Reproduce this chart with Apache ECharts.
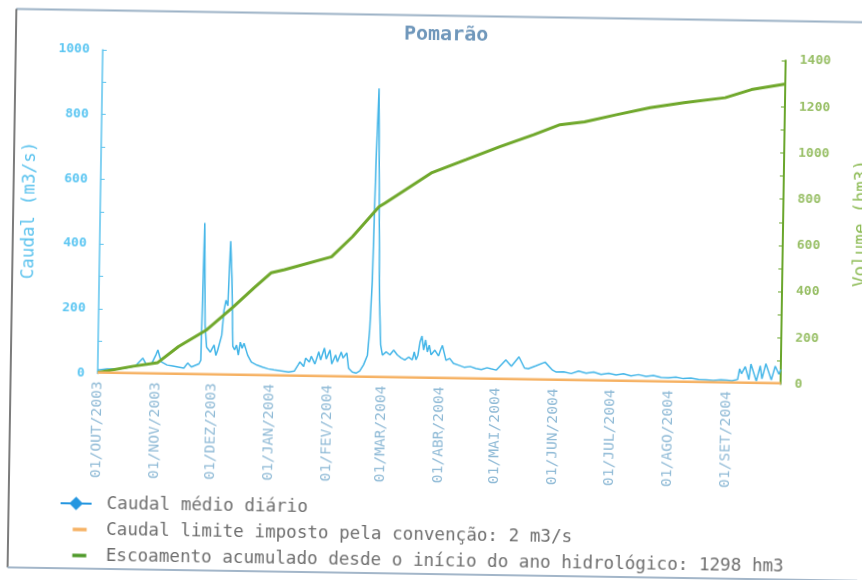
<!DOCTYPE html>
<html>
<head>
<meta charset="utf-8">
<script src="https://cdn.jsdelivr.net/npm/echarts@6/dist/echarts.min.js"></script>
<style>
  html, body { margin: 0; padding: 0; background: #ffffff; overflow: hidden; }
  /* the sheet sits slightly skewed on the page */
  #chart { width: 862px; height: 580px; transform: rotate(0.9deg); transform-origin: 50% 50%; }
</style>
</head>
<body>
<div id="chart"></div>
<script>
// Hydrological year October 2003 - September 2004, station Pomarão
const stationName = 'Pomarão';
const monthNames = ['JAN', 'FEV', 'MAR', 'ABR', 'MAI', 'JUN', 'JUL', 'AGO', 'SET', 'OUT', 'NOV', 'DEZ'];
const firstDay = '2003-10-01';
const lastDay = '2004-09-30';

// Daily mean discharge (m3/s)
const dailyFlow = [
  ['2003-10-01', 10], ['2003-10-06', 14], ['2003-10-11', 14], ['2003-10-16', 18], ['2003-10-21', 24],
  ['2003-10-25', 49], ['2003-10-27', 28], ['2003-10-30', 35],
  ['2003-11-01', 60], ['2003-11-02', 75], ['2003-11-03', 55], ['2003-11-04', 38], ['2003-11-07', 29],
  ['2003-11-10', 26], ['2003-11-13', 23], ['2003-11-16', 20], ['2003-11-18', 36], ['2003-11-20', 24],
  ['2003-11-24', 34], ['2003-11-25', 45], ['2003-11-26', 470], ['2003-11-27', 155], ['2003-11-28', 86],
  ['2003-11-30', 71],
  ['2003-12-02', 93], ['2003-12-03', 61], ['2003-12-04', 78], ['2003-12-06', 124], ['2003-12-07', 201],
  ['2003-12-08', 232], ['2003-12-09', 215], ['2003-12-10', 415], ['2003-12-11', 300], ['2003-12-12', 90],
  ['2003-12-13', 79], ['2003-12-14', 94], ['2003-12-15', 63], ['2003-12-16', 103], ['2003-12-17', 84],
  ['2003-12-18', 100], ['2003-12-20', 63], ['2003-12-22', 42], ['2003-12-25', 33], ['2003-12-28', 27],
  ['2003-12-31', 22],
  ['2004-01-03', 19], ['2004-01-07', 16], ['2004-01-11', 13], ['2004-01-14', 16], ['2004-01-16', 35],
  ['2004-01-17', 45], ['2004-01-19', 31], ['2004-01-20', 57], ['2004-01-22', 45], ['2004-01-23', 63],
  ['2004-01-25', 39], ['2004-01-27', 77], ['2004-01-28', 52], ['2004-01-30', 89], ['2004-01-31', 55],
  ['2004-02-02', 83], ['2004-02-03', 40], ['2004-02-05', 68], ['2004-02-06', 47], ['2004-02-08', 77],
  ['2004-02-09', 59], ['2004-02-11', 75], ['2004-02-12', 28], ['2004-02-14', 16], ['2004-02-16', 13],
  ['2004-02-18', 20], ['2004-02-20', 39], ['2004-02-22', 69], ['2004-02-23', 147], ['2004-02-24', 300],
  ['2004-02-25', 671], ['2004-02-26', 894], ['2004-02-27', 560], ['2004-02-28', 239], ['2004-02-29', 101],
  ['2004-03-01', 70], ['2004-03-03', 80], ['2004-03-05', 71], ['2004-03-07', 86], ['2004-03-09', 71],
  ['2004-03-11', 62], ['2004-03-13', 56], ['2004-03-15', 65], ['2004-03-17', 57], ['2004-03-18', 81],
  ['2004-03-19', 57], ['2004-03-20', 72], ['2004-03-21', 112], ['2004-03-22', 131], ['2004-03-23', 88],
  ['2004-03-24', 119], ['2004-03-25', 82], ['2004-03-26', 103], ['2004-03-27', 73], ['2004-03-29', 88],
  ['2004-03-31', 70],
  ['2004-04-01', 88], ['2004-04-02', 103], ['2004-04-04', 57], ['2004-04-06', 63], ['2004-04-08', 48],
  ['2004-04-11', 42], ['2004-04-14', 36], ['2004-04-17', 39], ['2004-04-20', 33], ['2004-04-23', 30],
  ['2004-04-26', 36], ['2004-04-28', 33],
  ['2004-05-01', 29], ['2004-05-06', 61], ['2004-05-09', 42], ['2004-05-13', 71], ['2004-05-16', 37],
  ['2004-05-18', 35], ['2004-05-22', 44], ['2004-05-27', 56], ['2004-05-31', 32],
  ['2004-06-02', 26], ['2004-06-06', 27], ['2004-06-10', 22], ['2004-06-14', 30], ['2004-06-18', 24],
  ['2004-06-22', 28], ['2004-06-26', 21], ['2004-06-30', 25],
  ['2004-07-04', 20], ['2004-07-08', 24], ['2004-07-12', 18], ['2004-07-16', 22], ['2004-07-20', 17],
  ['2004-07-24', 20], ['2004-07-28', 15],
  ['2004-08-01', 14], ['2004-08-05', 16], ['2004-08-09', 12], ['2004-08-13', 14], ['2004-08-17', 10],
  ['2004-08-21', 9], ['2004-08-25', 8], ['2004-08-29', 10],
  ['2004-09-01', 9], ['2004-09-04', 8], ['2004-09-07', 12], ['2004-09-08', 45], ['2004-09-09', 30],
  ['2004-09-11', 52], ['2004-09-13', 12], ['2004-09-14', 60], ['2004-09-17', 8], ['2004-09-19', 55],
  ['2004-09-20', 15], ['2004-09-22', 62], ['2004-09-25', 12], ['2004-09-27', 55], ['2004-09-29', 30],
  ['2004-09-30', 45]
];

// Flow limit set by the convention (m3/s)
const limitFlow = 2;

// Runoff accumulated since the start of the hydrological year (hm3)
const accumulatedVolume = [
  ['2003-10-01', 3], ['2003-10-20', 33], ['2003-11-02', 50], ['2003-11-13', 121], ['2003-11-28', 196],
  ['2003-12-12', 297], ['2003-12-23', 381], ['2004-01-01', 447], ['2004-01-08', 461], ['2004-02-02', 520],
  ['2004-02-13', 608], ['2004-02-27', 740], ['2004-03-01', 755], ['2004-03-26', 891], ['2004-04-13', 949],
  ['2004-05-01', 1008], ['2004-05-19', 1062], ['2004-06-02', 1107], ['2004-06-15', 1121], ['2004-07-02', 1154],
  ['2004-07-20', 1187], ['2004-08-07', 1211], ['2004-08-29', 1235], ['2004-09-12', 1272], ['2004-09-30', 1298]
];
const totalVolume = 1298;

const flowAxis = { min: 0, max: 1000, interval: 200 };
const volumeAxis = { min: 0, max: 1400, interval: 200 };

// one category per day of the hydrological year
const days = [];
for (let t = Date.parse(firstDay + 'T00:00:00Z'); t <= Date.parse(lastDay + 'T00:00:00Z'); t += 86400000) {
  days.push(new Date(t).toISOString().slice(0, 10));
}

const MONO = "'DejaVu Sans Mono', monospace";
const FLOW_COLOR = '#45b6e8';
const LIMIT_COLOR = '#f6b264';
const VOLUME_COLOR = '#70a82c';

const nameFlow = 'Caudal médio diário';
const nameLimit = 'Caudal limite imposto pela convenção: ' + limitFlow + ' m3/s';
const nameVolume = 'Escoamento acumulado desde o início do ano hidrológico: ' + totalVolume + ' hm3';

// legend marker of the daily flow: a short line crossed by a diamond
const flowLegendIcon = 'path://M0,6.5 L10,6.5 L16,0.5 L22,6.5 L32,6.5 L32,8.5 L22,8.5 L16,14.5 L10,8.5 L0,8.5 Z';

const chart = echarts.init(document.getElementById('chart'), null, { renderer: 'canvas' });

const legendText = { fontFamily: MONO, fontSize: 17.6, color: '#6e6e6e' };

chart.setOption({
  backgroundColor: '#ffffff',
  animation: false,
  title: {
    text: stationName,
    left: 400,
    top: 25,
    padding: 0,
    textStyle: { fontFamily: MONO, fontWeight: 'bold', fontSize: 20, color: '#6f97bb' }
  },
  grid: { left: 99, right: 80, top: 55, bottom: 201.5, containLabel: false, outerBoundsMode: 'none' },
  legend: [
    {
      data: [{ name: nameFlow, icon: flowLegendIcon, itemStyle: { color: '#2496e0' } }],
      left: 64, top: 500, padding: 0, itemWidth: 31, itemHeight: 14, selectedMode: false,
      textStyle: Object.assign({}, legendText, { padding: [0, 0, 0, 10] })
    },
    {
      data: [{ name: nameLimit, icon: 'rect', itemStyle: { color: LIMIT_COLOR } }],
      left: 76.5, top: 526, padding: 0, itemWidth: 14, itemHeight: 3.5, selectedMode: false,
      textStyle: Object.assign({}, legendText, { padding: [0, 0, 0, 14.5] })
    },
    {
      data: [{ name: nameVolume, icon: 'rect', itemStyle: { color: '#4f9a2a' } }],
      left: 76.5, top: 552, padding: 0, itemWidth: 14, itemHeight: 3.5, selectedMode: false,
      textStyle: Object.assign({}, legendText, { padding: [0, 0, 0, 14.5] })
    }
  ],
  xAxis: {
    type: 'category',
    data: days,
    boundaryGap: false,
    axisLine: { lineStyle: { color: '#8797a8', width: 1 } },
    axisTick: { show: false },
    splitLine: { show: false },
    axisLabel: {
      interval: (i, d) => d.slice(8) === '01',
      rotate: 90,
      margin: 8,
      fontFamily: MONO,
      fontSize: 14.6,
      color: '#8fbad6',
      formatter: d => '01/' + monthNames[+d.slice(5, 7) - 1] + '/' + d.slice(0, 4)
    }
  },
  yAxis: [
    {
      type: 'value',
      position: 'left',
      min: flowAxis.min, max: flowAxis.max, interval: flowAxis.interval,
      name: 'Caudal (m3/s)',
      nameLocation: 'middle',
      nameRotate: 90,
      nameGap: 62,
      nameTextStyle: { fontFamily: MONO, fontSize: 17.6, color: '#5cc3ee' },
      axisLine: { show: true, lineStyle: { color: '#5cc3ee', width: 1.5 } },
      axisTick: { show: true, inside: true, length: 4, lineStyle: { color: '#5cc3ee' } },
      minorTick: { show: true, splitNumber: 2, length: 4, lineStyle: { color: '#5cc3ee' } },
      splitLine: { show: false },
      axisLabel: {
        margin: 13, fontFamily: MONO, fontWeight: 'bold', fontSize: 13, color: '#5cc6f2',
        formatter: v => String(v)
      }
    },
    {
      type: 'value',
      position: 'right',
      min: volumeAxis.min, max: volumeAxis.max, interval: volumeAxis.interval,
      name: 'Volume (hm3)',
      nameLocation: 'middle',
      nameRotate: 90,
      nameGap: 69,
      nameTextStyle: { fontFamily: MONO, fontSize: 17.6, color: '#8dbb55' },
      axisLine: { show: true, lineStyle: { color: '#6aa62c', width: 2 } },
      axisTick: { show: true, inside: true, length: 4, lineStyle: { color: '#6aa62c' } },
      minorTick: { show: true, splitNumber: 2, length: 4, lineStyle: { color: '#6aa62c' } },
      splitLine: { show: false },
      axisLabel: {
        margin: 14, fontFamily: MONO, fontWeight: 'bold', fontSize: 13, color: '#98bf66',
        formatter: v => String(v)
      }
    }
  ],
  graphic: [
    // sheet frame
    { type: 'line', shape: { x1: 12, y1: 15.5, x2: 870, y2: 15.5 }, style: { stroke: '#9cb2c6', lineWidth: 2 }, silent: true },
    { type: 'line', shape: { x1: 12, y1: 15.5, x2: 12, y2: 574 }, style: { stroke: '#505050', lineWidth: 1.5 }, silent: true },
    { type: 'line', shape: { x1: 12, y1: 574, x2: 870, y2: 574 }, style: { stroke: '#a3b6c9', lineWidth: 2 }, silent: true }
  ],
  series: [
    {
      name: nameFlow,
      type: 'line',
      yAxisIndex: 0,
      data: dailyFlow,
      symbol: 'none',
      lineStyle: { color: FLOW_COLOR, width: 1.5 },
      itemStyle: { color: FLOW_COLOR },
      z: 2
    },
    {
      name: nameVolume,
      type: 'line',
      yAxisIndex: 1,
      data: accumulatedVolume,
      symbol: 'none',
      lineStyle: { color: VOLUME_COLOR, width: 3 },
      itemStyle: { color: VOLUME_COLOR },
      z: 3
    },
    {
      name: nameLimit,
      type: 'line',
      yAxisIndex: 0,
      data: [[firstDay, limitFlow], [lastDay, limitFlow]],
      symbol: 'none',
      lineStyle: { color: LIMIT_COLOR, width: 2.5 },
      itemStyle: { color: LIMIT_COLOR },
      z: 4
    }
  ]
});
</script>
</body>
</html>
